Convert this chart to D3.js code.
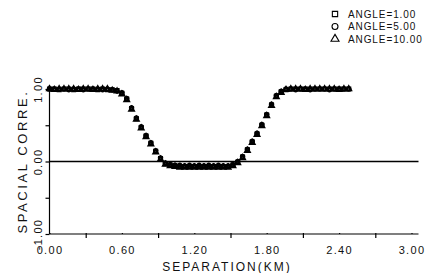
<!DOCTYPE html>
<html>
<head>
<meta charset="utf-8">
<script src="https://cdn.jsdelivr.net/npm/d3@7"></script>
<style>
  body { margin: 0; background: #fff; }
  text { font-family: "Liberation Sans", "DejaVu Sans", sans-serif; fill: #111; }
</style>
</head>
<body>
<div id="chart"></div>
<script>
// separation (km)
const sep = [0.00,0.04,0.08,0.12,0.16,0.20,0.24,0.28,0.32,0.36,0.40,0.44,0.48,0.52,
  0.56,0.60,0.64,0.68,0.72,0.76,0.80,0.84,0.88,0.92,0.96,1.00,1.04,1.08,1.12,1.16,1.20,
  1.24,1.28,1.32,1.36,1.40,1.44,1.48,1.52,1.56,1.60,1.64,1.68,1.72,1.76,1.80,1.84,1.88,
  1.92,1.96,2.00,2.04,2.08,2.12,2.16,2.20,2.24,2.28,2.32,2.36,2.40,2.44,2.48];

// spatial correlation, one list per angle
const angle1 = [1.00,1.00,0.99,1.00,1.00,0.99,1.00,1.00,1.00,1.00,0.99,1.00,0.99,0.99,
  0.98,0.94,0.86,0.73,0.59,0.47,0.35,0.25,0.14,0.04,-0.03,-0.05,-0.06,-0.07,-0.07,-0.07,-0.07,
  -0.07,-0.07,-0.07,-0.07,-0.07,-0.07,-0.07,-0.05,-0.01,0.06,0.16,0.27,0.38,0.50,0.64,0.78,0.90,
  0.96,0.99,1.00,1.00,1.00,1.00,1.00,1.00,1.00,1.00,1.00,1.00,1.00,1.00,1.00];
const angle5 = [1.00,1.00,1.00,1.00,0.99,1.00,1.00,0.99,1.00,1.00,1.00,0.99,1.00,0.99,
  0.97,0.95,0.87,0.74,0.60,0.48,0.36,0.26,0.15,0.05,-0.02,-0.04,-0.05,-0.05,-0.06,-0.05,-0.06,
  -0.05,-0.06,-0.05,-0.06,-0.05,-0.06,-0.06,-0.04,0.00,0.07,0.17,0.28,0.39,0.51,0.65,0.79,0.91,
  0.97,1.00,1.00,0.99,1.00,1.00,0.99,1.00,1.00,1.00,0.99,1.00,1.00,1.00,1.00];
const angle10 = [1.00,0.99,1.00,1.00,1.00,1.00,0.99,1.00,1.00,0.99,1.00,1.00,1.00,0.98,
  0.97,0.93,0.85,0.72,0.58,0.46,0.34,0.24,0.13,0.03,-0.04,-0.06,-0.07,-0.08,-0.08,-0.08,-0.08,
  -0.08,-0.08,-0.08,-0.08,-0.08,-0.08,-0.08,-0.06,-0.02,0.05,0.15,0.26,0.37,0.49,0.63,0.77,0.89,
  0.95,0.99,1.00,1.00,1.00,0.99,1.00,1.00,1.00,1.00,1.00,1.00,0.99,1.00,1.00];

const legendLabels = ["ANGLE=1.00", "ANGLE=5.00", "ANGLE=10.00"];
const xTicks = [0,0.3,0.6,0.9,1.2,1.5,1.8,2.1,2.4,2.7,3.0];
const xLabels = ["0.00","0.60","1.20","1.80","2.40","3.00"];
const yTicks = [-1,-0.5,0,0.5,1];
const yLabels = ["-1.00","0.00","1.00"];

const width = 431, height = 273;

const svg = d3.select("#chart").append("svg")
  .attr("width", width).attr("height", height);

const x = d3.scaleLinear().domain([0, 3]).range([49.5, 411.5]);
const y = d3.scaleLinear().domain([-1, 1]).range([234, 89]);

// eje x
const xAxis = d3.axisBottom(x)
  .tickValues(xTicks)
  .tickSize(4)
  .tickSizeOuter(0)
  .tickFormat(d => {
    const s = d.toFixed(2);
    return xLabels.includes(s) ? s : "";
  });
const gx = svg.append("g").attr("transform", `translate(0,${y(-1)})`).call(xAxis);
gx.select(".domain").attr("d", `M${x(0)},0H${x(3) + 7}`).attr("stroke-width", 1.2);
gx.selectAll(".tick line").attr("stroke-width", 1.2)
  .attr("y1", -1)
  .attr("y2", d => xLabels.includes(d.toFixed(2)) ? 0 : 4);
gx.selectAll(".tick text")
  .attr("y", 12)
  .style("font-size", "11px")
  .style("letter-spacing", "1.3px");

// eje y
const yAxis = d3.axisLeft(y)
  .tickValues(yTicks)
  .tickSize(4)
  .tickSizeOuter(0)
  .tickFormat(d => {
    const s = d.toFixed(2);
    return yLabels.includes(s) ? s : "";
  });
const gy = svg.append("g").attr("transform", `translate(${x(0)},0)`).call(yAxis);
gy.select(".domain").attr("d", `M0,${y(1) - 4}V${y(-1)}`).attr("stroke-width", 1.2);
gy.selectAll(".tick line").attr("stroke-width", 1.2);
gy.selectAll(".tick text")
  .attr("x", null).attr("dy", null)
  .attr("text-anchor", "middle")
  .attr("transform", "translate(-6,0) rotate(-90)")
  .attr("y", 0)
  .attr("dy", "-0.1em")
  .style("font-size", "11px")
  .style("letter-spacing", "1.3px");

// línea de cero
svg.append("line")
  .attr("x1", x(0)).attr("x2", x(3) + 7)
  .attr("y1", y(0)).attr("y2", y(0))
  .attr("stroke", "#000").attr("stroke-width", 1.6);

// títulos
svg.append("text")
  .attr("x", 227).attr("y", 271)
  .attr("text-anchor", "middle")
  .style("font-size", "12px")
  .style("letter-spacing", "2px")
  .text("SEPARATION(KM)");

svg.append("text")
  .attr("transform", `translate(27,${y(0)}) rotate(-90)`)
  .attr("text-anchor", "middle")
  .style("font-size", "13px")
  .style("letter-spacing", "2.6px")
  .text("SPACIAL CORRE.");

// series
const series = [angle1, angle5, angle10];
const shapes = [d3.symbolSquare, d3.symbolCircle, d3.symbolTriangle];

series.forEach((vals, i) => {
  const sym = d3.symbol().type(shapes[i]).size(10);
  svg.append("g").selectAll("path")
    .data(vals)
    .enter().append("path")
    .attr("transform", (d, j) => `translate(${x(sep[j])},${y(d)})`)
    .attr("d", sym)
    .attr("fill", "none")
    .attr("stroke", "#000")
    .attr("stroke-width", 1.9);
});

// leyenda
const legend = svg.append("g");
legendLabels.forEach((lab, i) => {
  const ly = 14 + i * 12.5;
  legend.append("path")
    .attr("transform", `translate(335,${ly})`)
    .attr("d", d3.symbol().type(shapes[i]).size(28))
    .attr("fill", "none").attr("stroke", "#000").attr("stroke-width", 1.1);
  legend.append("text")
    .attr("x", 348).attr("y", ly + 3.5)
    .style("font-size", "10px")
    .style("letter-spacing", "0.9px")
    .text(lab);
});
</script>
</body>
</html>
